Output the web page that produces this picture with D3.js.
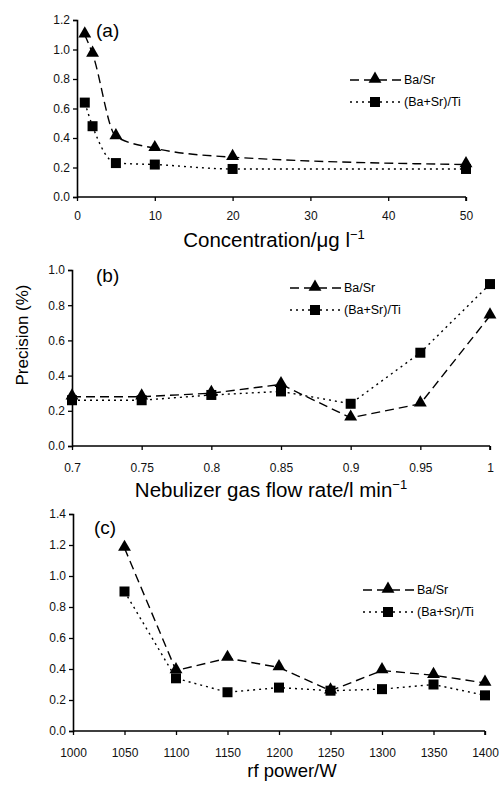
<!DOCTYPE html>
<html>
<head>
<meta charset="utf-8">
<script src="https://cdn.jsdelivr.net/npm/d3@7"></script>
<style>
  body { margin: 0; background: #fff; }
  svg { display: block; font-family: "Liberation Sans", Arial, sans-serif; }
</style>
</head>
<body>
<svg id="graph" width="501" height="785"></svg>
<script>
// Series names
var seriesNames = ["Ba/Sr", "(Ba+Sr)/Ti"];

// (a) concentration
var concX = [1, 2, 5, 10, 20, 50];
var concBaSr = [1.10, 0.97, 0.41, 0.33, 0.27, 0.22];
var concBaSrTi = [0.64, 0.48, 0.23, 0.22, 0.19, 0.19];
var concXTicks = [0, 10, 20, 30, 40, 50];
var concYTicks = [0, 0.2, 0.4, 0.6, 0.8, 1.0, 1.2];

// (b) nebulizer gas flow
var nebX = [0.7, 0.75, 0.8, 0.85, 0.9, 0.95, 1];
var nebBaSr = [0.28, 0.28, 0.30, 0.35, 0.16, 0.24, 0.74];
var nebBaSrTi = [0.26, 0.26, 0.29, 0.31, 0.24, 0.53, 0.92];
var nebXTicks = [0.7, 0.75, 0.8, 0.85, 0.9, 0.95, 1];
var nebYTicks = [0, 0.2, 0.4, 0.6, 0.8, 1.0];

// (c) rf power
var rfX = [1050, 1100, 1150, 1200, 1250, 1300, 1350, 1400];
var rfBaSr = [1.18, 0.39, 0.47, 0.41, 0.26, 0.39, 0.36, 0.31];
var rfBaSrTi = [0.90, 0.34, 0.25, 0.28, 0.26, 0.27, 0.30, 0.23];
var rfXTicks = [1000, 1050, 1100, 1150, 1200, 1250, 1300, 1350, 1400];
var rfYTicks = [0, 0.2, 0.4, 0.6, 0.8, 1.0, 1.2, 1.4];

var svg = d3.select("#graph");
var dashStyle = ["9,5", "2,4"];

// dessine un marqueur (triangle ou carré)
function marker(g, type, x, y) {
  if (type === 0) {
    g.append("path")
      .attr("d", d3.symbol().type(d3.symbolTriangle).size(72)())
      .attr("transform", "translate(" + x + "," + (y - 1) + ")")
      .attr("fill", "black");
  } else {
    g.append("rect")
      .attr("x", x - 5).attr("y", y - 5)
      .attr("width", 10).attr("height", 10)
      .attr("fill", "black");
  }
}

function panel(p) {
  var g = svg.append("g");
  var x = d3.scaleLinear().domain(p.xDom).range([p.left, p.right]);
  var y = d3.scaleLinear().domain(p.yDom).range([p.bottom, p.top]);

  var yAxis = d3.axisLeft(y).tickValues(p.yTicks).tickFormat(d3.format(".1f")).tickSize(4).tickPadding(3);
  var gy = g.append("g").attr("transform", "translate(" + p.left + ",0)").call(yAxis);
  var xAxis = d3.axisBottom(x).tickValues(p.xTicks).tickFormat(function(d) { return String(+d.toFixed(2)); }).tickSize(4).tickPadding(p.xPad);
  var gx = g.append("g").attr("transform", "translate(0," + p.bottom + ")").call(xAxis);
  [gx, gy].forEach(function(a) {
    a.select(".domain").attr("stroke-width", 1.6);
    a.selectAll(".tick line").attr("stroke-width", 1.3);
    a.selectAll("text").attr("font-size", 12).attr("fill", "#111");
  });
  gx.select(".domain").attr("d", "M" + p.left + ",0H" + p.right + "M" + p.right + ",0V4");

  var curve = p.smooth ? d3.curveMonotoneX : d3.curveLinear;
  p.series.forEach(function(vals, s) {
    var line = d3.line().curve(curve)
      .x(function(d, i) { return x(p.xs[i]); })
      .y(function(d) { return y(d); });
    g.append("path").attr("d", line(vals))
      .attr("fill", "none").attr("stroke", "black")
      .attr("stroke-width", 1.4).attr("stroke-dasharray", dashStyle[s]);
  });
  p.series.forEach(function(vals, s) {
    vals.forEach(function(v, i) { marker(g, s, x(p.xs[i]), y(v)); });
  });

  // légende
  seriesNames.forEach(function(name, s) {
    var ly = p.legY + s * 22;
    g.append("line").attr("x1", p.legX).attr("x2", p.legX + 52)
      .attr("y1", ly).attr("y2", ly).attr("stroke", "black")
      .attr("stroke-width", 1.4).attr("stroke-dasharray", dashStyle[s]);
    marker(g, s, p.legX + 25, ly);
    g.append("text").attr("x", p.legX + 54).attr("y", ly + 4)
      .attr("font-size", 12.5).text(name);
  });

  g.append("text").attr("x", p.labX).attr("y", p.labY).attr("font-size", 19).text(p.label);
}

panel({ xDom: [0, 50], yDom: [0, 1.2], left: 77, right: 466, top: 20, bottom: 197,
  xs: concX, series: [concBaSr, concBaSrTi], xTicks: concXTicks, yTicks: concYTicks, smooth: true, xPad: 10,
  legX: 350, legY: 80, label: "(a)", labX: 96, labY: 37 });
svg.append("text").attr("x", 274).attr("y", 247).attr("text-anchor", "middle").attr("font-size", 20.5)
  .html('Concentration/\u03bcg l<tspan dy="-8" font-size="13">\u22121</tspan>');

panel({ xDom: [0.7, 1], yDom: [0, 1.0], left: 72, right: 490, top: 270, bottom: 446,
  xs: nebX, series: [nebBaSr, nebBaSrTi], xTicks: nebXTicks, yTicks: nebYTicks, smooth: false, xPad: 13,
  legX: 290, legY: 288, label: "(b)", labX: 96, labY: 282 });
svg.append("text").attr("x", 271).attr("y", 497).attr("text-anchor", "middle").attr("font-size", 20.5)
  .html('Nebulizer gas flow rate/l min<tspan dy="-8" font-size="13">\u22121</tspan>');
svg.append("text").attr("transform", "translate(28,335) rotate(-90)")
  .attr("text-anchor", "middle").attr("font-size", 17).text("Precision (%)");

panel({ xDom: [1000, 1400], yDom: [0, 1.4], left: 73, right: 485, top: 514, bottom: 731,
  xs: rfX, series: [rfBaSr, rfBaSrTi], xTicks: rfXTicks, yTicks: rfYTicks, smooth: false, xPad: 13,
  legX: 363, legY: 590, label: "(c)", labX: 94, labY: 534 });
svg.append("text").attr("x", 292).attr("y", 777).attr("text-anchor", "middle").attr("font-size", 18.5)
  .text("rf power/W");
</script>
</body>
</html>
